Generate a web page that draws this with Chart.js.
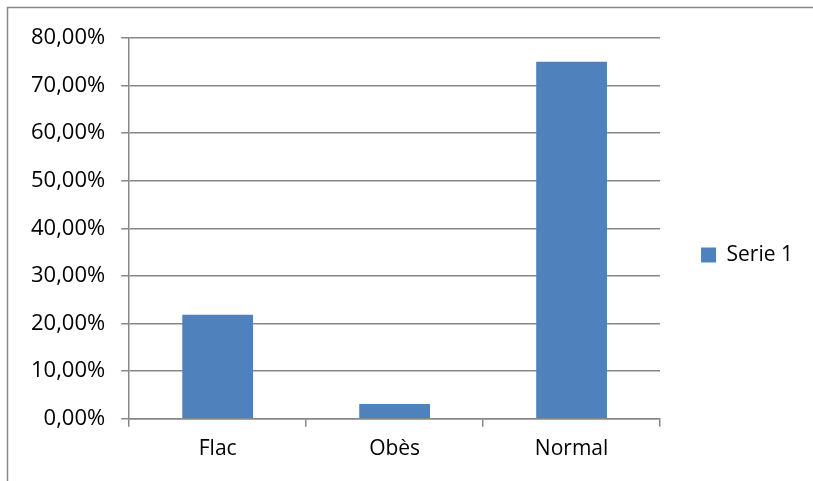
<!DOCTYPE html>
<html>
<head>
<meta charset="utf-8">
<script src="https://cdn.jsdelivr.net/npm/chart.js@4/dist/chart.umd.min.js"></script>
<style>
  body { margin: 0; background: #ffffff; }
  #wrap { width: 813px; height: 481px; position: relative; }
</style>
</head>
<body>
<div id="wrap"><canvas id="bmi"></canvas></div>
<script>
var categories = ["Flac", "Obès", "Normal"];
var serie1 = [21.88, 3.13, 75.0];
var yTicks = [0, 10, 20, 30, 40, 50, 60, 70, 80];

var gray = "#878787";

// frame around the chart (only top and left edges are visible in the crop)
var framePlugin = {
  id: 'frame',
  beforeDraw: function (chart) {
    var c = chart.ctx;
    c.save();
    c.fillStyle = "#ffffff";
    c.fillRect(0, 0, chart.width, chart.height);
    c.strokeStyle = gray;
    c.lineWidth = 1.5;
    c.beginPath();
    c.moveTo(7.5, chart.height + 5);
    c.lineTo(7.5, 7.5);
    c.lineTo(chart.width + 5, 7.5);
    c.stroke();
    c.restore();
  }
};

var ctx = document.getElementById('bmi').getContext('2d');

new Chart(ctx, {
  type: 'bar',
  data: {
    labels: categories,
    datasets: [
      {
        label: "Serie 1",
        data: serie1,
        backgroundColor: "#4f81bd",
        borderWidth: 0,
        barPercentage: 0.4,
        categoryPercentage: 1.0
      }
    ]
  },
  options: {
    responsive: true,
    maintainAspectRatio: false,
    animation: false,
    layout: {
      padding: { left: 15, top: 38, right: 10, bottom: 9 }
    },
    plugins: {
      legend: {
        display: true,
        position: "right",
        labels: {
          boxWidth: 15,
          boxHeight: 15,
          padding: 41,
          color: "#000000",
          font: { family: "'Open Sans'", size: 21 }
        }
      },
      tooltip: { enabled: false }
    },
    scales: {
      y: {
        min: 0,
        max: 80,
        afterBuildTicks: function (axis) {
          axis.ticks = yTicks.map(function (v) { return { value: v }; });
        },
        ticks: {
          color: "#000000",
          padding: 16,
          font: { family: "'Open Sans'", size: 22 },
          callback: function (v) { return v.toFixed(2).replace('.', ',') + '%'; }
        },
        grid: {
          color: gray,
          lineWidth: 1.5,
          tickLength: 8
        },
        border: { color: gray, width: 1.5 }
      },
      x: {
        ticks: {
          color: "#000000",
          padding: 10,
          font: { family: "'Open Sans'", size: 21 }
        },
        grid: {
          drawOnChartArea: false,
          color: gray,
          lineWidth: 1.5,
          tickLength: 8,
          offset: true
        },
        border: { color: gray, width: 1.5 }
      }
    }
  },
  plugins: [framePlugin]
});
</script>
</body>
</html>
